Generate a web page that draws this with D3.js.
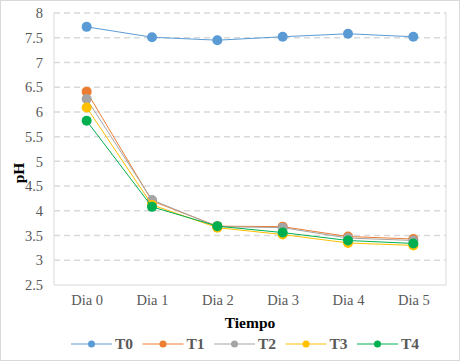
<!DOCTYPE html>
<meta charset="utf-8">
<style>
body { margin: 0; background: #fff; }
text { font-family: "Liberation Serif", "Times New Roman", serif; }
</style>
<body>
<script src="https://cdnjs.cloudflare.com/ajax/libs/d3/7.8.5/d3.min.js"></script>
<script>

var days = ["Dia 0", "Dia 1", "Dia 2", "Dia 3", "Dia 4", "Dia 5"];
var seriesNames = ["T0", "T1", "T2", "T3", "T4"];
var colors = ["#5b9bd5", "#ed7d31", "#a5a5a5", "#ffc000", "#00b050"];
var T0 = [7.72, 7.51, 7.45, 7.52, 7.58, 7.52];
var T1 = [6.41, 4.20, 3.69, 3.68, 3.48, 3.43];
var T2 = [6.26, 4.22, 3.68, 3.66, 3.45, 3.40];
var T3 = [6.09, 4.12, 3.66, 3.52, 3.35, 3.30];
var T4 = [5.82, 4.08, 3.69, 3.56, 3.40, 3.34];
var yTicks = [2.5, 3, 3.5, 4, 4.5, 5, 5.5, 6, 6.5, 7, 7.5, 8];

var series = [T0, T1, T2, T3, T4];

var width = 460, height = 361;
var svg = d3.select("body").append("svg")
    .attr("width", width)
    .attr("height", height);

// outer chart border
svg.append("rect")
    .attr("x", 0.5).attr("y", 0.5)
    .attr("width", width - 1).attr("height", height - 1)
    .attr("fill", "#fff")
    .attr("stroke", "#d9d9d9");

var plotLeft = 54, plotRight = 446, plotTop = 13, plotBottom = 285;

var x = d3.scalePoint().domain(days).range([plotLeft, plotRight]).padding(0.5);
var y = d3.scaleLinear().domain([2.5, 8]).range([plotBottom, plotTop]);

// gridlines
svg.append("g").selectAll("line")
    .data(yTicks.filter(function(d) { return d > 2.5; }))
  .enter().append("line")
    .attr("x1", plotLeft).attr("x2", plotRight)
    .attr("y1", function(d) { return y(d); })
    .attr("y2", function(d) { return y(d); })
    .attr("stroke", "#d9d9d9")
    .attr("stroke-width", 1.5)
    .attr("stroke-dasharray", "6,4");

// plot border (left, right, bottom)
svg.append("path")
    .attr("d", "M" + plotLeft + "," + plotTop + "V" + plotBottom + "H" + plotRight + "V" + plotTop)
    .attr("fill", "none")
    .attr("stroke", "#d9d9d9")
    .attr("stroke-width", 1);

function styleAxis(g) {
  g.select(".domain").remove();
  g.attr("font-family", "'Liberation Serif', 'Times New Roman', serif")
   .attr("font-size", 14.5);
  g.selectAll(".tick text").attr("fill", "#595959");
}

svg.append("g")
    .attr("transform", "translate(" + (plotLeft - 1) + ",0)")
    .call(d3.axisLeft(y).tickValues(yTicks).tickSize(0).tickPadding(10)
      .tickFormat(function(d) { return d; }))
    .call(styleAxis);

svg.append("g")
    .attr("transform", "translate(0," + plotBottom + ")")
    .call(d3.axisBottom(x).tickSize(0).tickPadding(10))
    .call(styleAxis);

// axis titles
svg.append("text")
    .attr("x", (plotLeft + plotRight) / 2).attr("y", 328)
    .attr("text-anchor", "middle")
    .attr("font-size", "15.5px").attr("font-weight", "bold")
    .text("Tiempo");

svg.append("text")
    .attr("transform", "translate(24,173) rotate(-90)")
    .attr("text-anchor", "middle")
    .attr("font-size", "15.5px").attr("font-weight", "bold")
    .text("pH");

var line = d3.line()
    .x(function(d, i) { return x(days[i]); })
    .y(function(d) { return y(d); });

series.forEach(function(s, k) {
  var g = svg.append("g");
  g.append("path")
      .datum(s)
      .attr("d", line)
      .attr("fill", "none")
      .attr("stroke", colors[k])
      .attr("stroke-width", 1);
  g.selectAll("circle")
      .data(s)
    .enter().append("circle")
      .attr("cx", function(d, i) { return x(days[i]); })
      .attr("cy", function(d) { return y(d); })
      .attr("r", 5)
      .attr("fill", colors[k]);
});

// legend
var legend = svg.append("g").selectAll("g")
    .data(seriesNames)
  .enter().append("g")
    .attr("transform", function(d, i) { return "translate(" + (71 + i * 71.5) + ",344)"; });

legend.append("line")
    .attr("x1", 0).attr("x2", 41)
    .attr("stroke", function(d, i) { return colors[i]; })
    .attr("stroke-width", 1);
legend.append("circle")
    .attr("cx", 20.5).attr("r", 3.5)
    .attr("fill", function(d, i) { return colors[i]; });
legend.append("text")
    .attr("x", 44).attr("dy", "0.35em")
    .attr("font-size", "15.5px").attr("font-weight", "bold")
    .attr("fill", "#595959")
    .text(function(d) { return d; });

</script>
